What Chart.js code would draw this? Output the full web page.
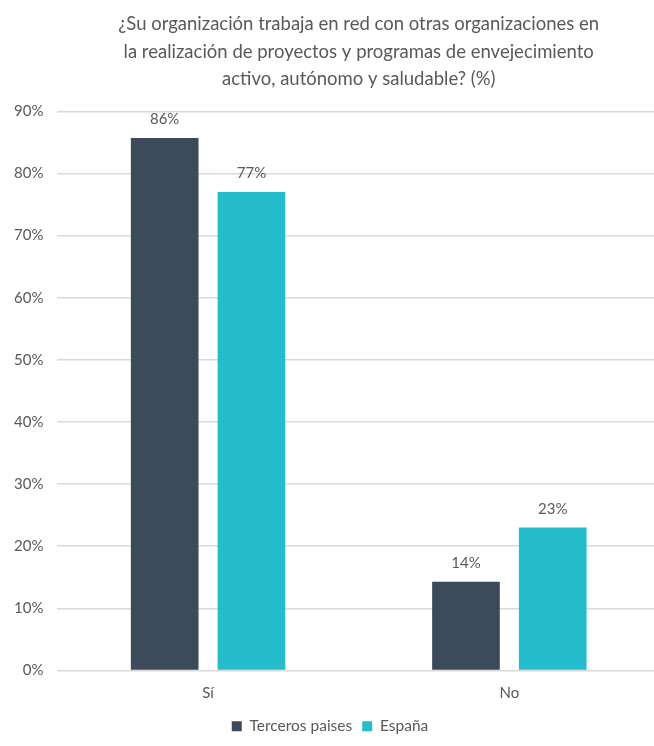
<!DOCTYPE html>
<html>
<head>
<meta charset="utf-8">
<script src="https://cdn.jsdelivr.net/npm/chart.js@4/dist/chart.umd.min.js"></script>
<style>
  html, body { margin: 0; padding: 0; background: #fff; overflow: hidden; }
  #wrap { width: 660px; height: 746px; }
</style>
</head>
<body>
<div id="wrap"><canvas id="chart"></canvas></div>
<script>
// Data
const categories = ['Sí', 'No'];
const tercerosValues = [85.7, 14.3];
const espanaValues = [77, 23];
const seriesNames = ['Terceros paises', 'España'];
const titleLines = [
    '¿Su organización trabaja en red con otras organizaciones en',
    'la realización de proyectos y programas de envejecimiento',
    'activo, autónomo y saludable? (%)'
];

// Colors
const darkColor = '#3d4a5a';
const tealColor = '#25bccc';
const textColor = '#595959';
const gridColor = '#d9d9d9';
const fontFamily = 'Lato, "Open Sans", sans-serif';

// Value labels above the bars
const valueLabels = {
    id: 'valueLabels',
    afterDatasetsDraw(chart) {
        const c = chart.ctx;
        c.save();
        c.font = '15px ' + fontFamily;
        c.fillStyle = textColor;
        c.textAlign = 'center';
        c.textBaseline = 'bottom';
        chart.data.datasets.forEach((ds, i) => {
            chart.getDatasetMeta(i).data.forEach((bar, j) => {
                c.fillText(Math.round(ds.data[j]) + '%', bar.x, bar.y - 11);
            });
        });
        c.restore();
    }
};

new Chart(document.getElementById('chart').getContext('2d'), {
    type: 'bar',
    data: {
        labels: categories,
        datasets: [
            { label: seriesNames[0], data: tercerosValues, backgroundColor: darkColor },
            { label: seriesNames[1], data: espanaValues, backgroundColor: tealColor }
        ]
    },
    options: {
        responsive: true,
        maintainAspectRatio: false,
        animation: false,
        categoryPercentage: 0.576,
        barPercentage: 0.78,
        layout: { padding: { left: 0, right: 0, top: 0, bottom: 2 } },
        scales: {
            x: {
                grid: { display: false },
                border: { display: false },
                ticks: { color: textColor, font: { family: fontFamily, size: 15 }, padding: 6 }
            },
            y: {
                min: 0,
                max: 90,
                grid: { color: gridColor, lineWidth: 1.5, drawTicks: false },
                border: { display: false },
                ticks: {
                    stepSize: 10,
                    color: textColor,
                    padding: 14,
                    font: { family: fontFamily, size: 15 },
                    callback: v => v + '%'
                }
            }
        },
        plugins: {
            title: {
                display: true,
                fullSize: false,
                text: titleLines,
                color: textColor,
                font: { family: fontFamily, size: 18.5, weight: 'normal', lineHeight: 1.5 },
                padding: { top: 10, bottom: 18 }
            },
            legend: {
                position: 'bottom',
                labels: {
                    color: textColor,
                    boxWidth: 10,
                    boxHeight: 10,
                    padding: 10,
                    font: { family: fontFamily, size: 15.5 }
                }
            },
            tooltip: { enabled: false }
        }
    },
    plugins: [valueLabels]
});
</script>
</body>
</html>
